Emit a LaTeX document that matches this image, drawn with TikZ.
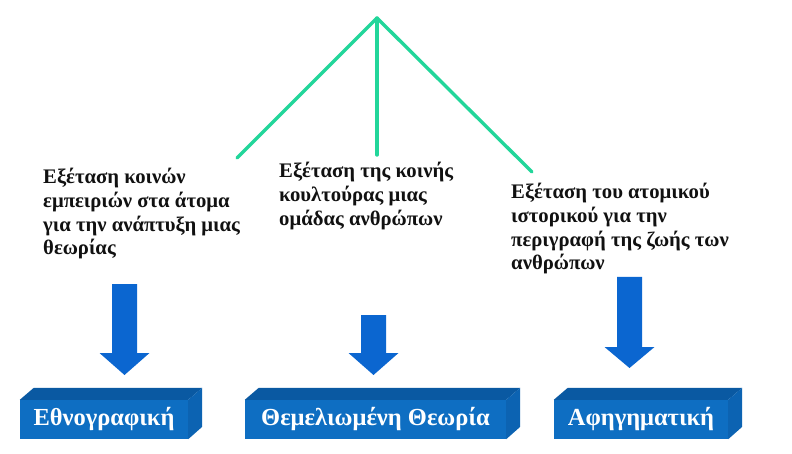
\documentclass[tikz,border=0pt]{standalone}
\usepackage{fontspec}
\setmainfont{Liberation Serif}
\usetikzlibrary{calc,positioning}
\definecolor{qualGreen}{HTML}{22D69A}
\definecolor{qualBlue}{HTML}{0B66D0}
\definecolor{qualFront}{HTML}{0E6EC2}
\definecolor{qualTop}{HTML}{0A59A2}
\definecolor{qualSide}{HTML}{0C63B2}
\definecolor{qualInk}{HTML}{111111}

% one slab: name, left, top, right, bottom, label
\newcommand{\qualslab}[6]{%
  \node[slab,minimum width={#4-#2},minimum height={#5-#3}] (#1) at ({(#2+#4)/2},{(#3+#5)/2}) {#6};
  \fill[qualTop] (#1.north west) -- ++(14,-12) -- ($(#1.north east)+(14,-12)$) -- (#1.north east) -- cycle;
  \fill[qualSide] (#1.north east) -- ++(14,-12) -- ++(0,39) -- (#1.south east) -- cycle;}

% block arrow pointing down: centre x, top, head start, tip
\newcommand{\qualdown}[4]{%
  \fill[qualBlue] ({#1-12.5},#2) -- ({#1+12.5},#2) -- ({#1+12.5},#3) -- ({#1+25},#3) -- (#1,#4) -- ({#1-25},#3) -- ({#1-12.5},#3) -- cycle;}

\begin{document}
\begin{tikzpicture}[x=1pt,y=-1pt,line cap=round,line join=round]
\path[fill=white] (0,0) rectangle (792,454);
\tikzset{branch/.style={draw=qualGreen,line width=3.4pt},
  note/.style={anchor=north west,align=left,inner sep=0pt,text=qualInk,font=\fontsize{20.7}{23.8}\selectfont\bfseries},
  slab/.style={fill=qualFront,inner sep=0pt,text=white,font=\fontsize{24.5}{28}\selectfont\bfseries}}

% the tree at the top
\coordinate (apex) at (377,18);
\coordinate (leftend) at (237,158);
\coordinate (midend) at (377,155);
\coordinate (rightend) at (532,172);
\draw[branch] (apex) -- (leftend);
\draw[branch] (apex) -- (midend);
\draw[branch] (apex) -- (rightend);

% descriptions
\node[note] (ethnotext) at (43,168) {Εξέταση κοινών\\εμπειριών στα άτομα\\για την ανάπτυξη μιας\\θεωρίας};
\node[note] (groundtext) at (279,162) {Εξέταση της κοινής\\κουλτούρας μιας\\ομάδας ανθρώπων};
\node[note] (narrtext) at (511,183) {Εξέταση του ατομικού\\ιστορικού για την\\περιγραφή της ζωής των\\ανθρώπων};

% arrows
\qualdown{124.5}{284}{353}{375}
\qualdown{373.5}{315}{353}{375}
\qualdown{629.5}{277}{347}{368}

% method slabs
\qualslab{ethno}{20}{400}{188}{439}{Εθνογραφική}
\qualslab{ground}{245}{400}{506}{439}{Θεμελιωμένη Θεωρία}
\qualslab{narr}{554}{400}{728}{439}{Αφηγηματική}
\end{tikzpicture}
\end{document}
